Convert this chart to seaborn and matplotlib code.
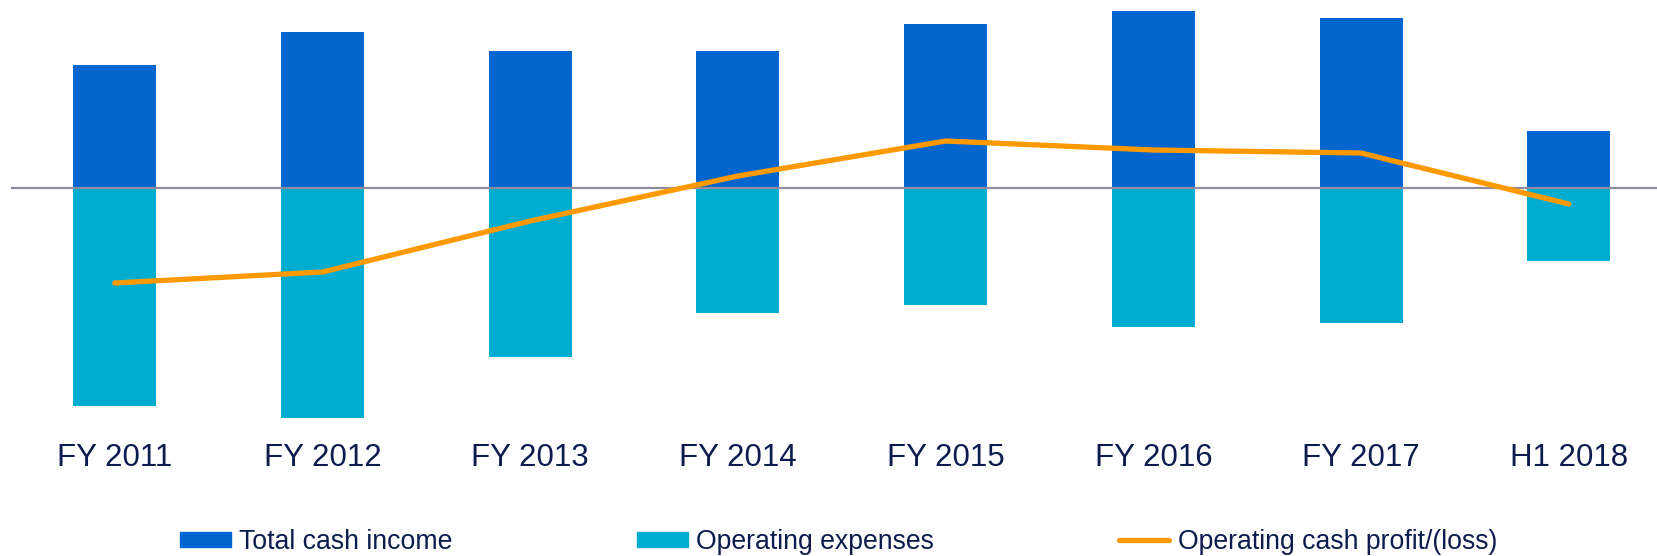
import numpy as np
import pandas as pd
import matplotlib
matplotlib.use("Agg")
import matplotlib.pyplot as plt
import seaborn as sns
from matplotlib.patches import Patch
from matplotlib.lines import Line2D

sns.set_style("white")
plt.rcParams['font.family'] = ['Liberation Sans', 'DejaVu Sans']

periods = ["FY 2011", "FY 2012", "FY 2013", "FY 2014", "FY 2015", "FY 2016", "FY 2017", "H1 2018"]
cash_income = [123, 156, 137, 137, 164, 177, 170, 57]
operating_expenses = [-218, -230, -169, -125, -117, -139, -135, -73]
cash_profit = [-95, -84, -33, 12, 47, 38, 35, -16]

income_color = "#0366CE"
expense_color = "#00ADD0"
profit_color = "#FF9900"
text_color = "#0C1C4E"

df = pd.DataFrame({"period": periods, "income": cash_income,
                   "expenses": operating_expenses, "profit": cash_profit})

fig = plt.figure(figsize=(16.58, 5.56), dpi=100)
ax = fig.add_axes([11 / 1658, 131 / 556, 8 * 207.7 / 1658, 425 / 556])

sns.barplot(data=df, x="period", y="income", color=income_color, width=0.4,
            saturation=1, linewidth=0, ax=ax)
sns.barplot(data=df, x="period", y="expenses", color=expense_color, width=0.4,
            saturation=1, linewidth=0, ax=ax)
ax.axhline(0, color="#8E8C9C", linewidth=1.6, zorder=3)
sns.lineplot(x=np.arange(len(periods)), y=df["profit"], color=profit_color,
             linewidth=3.8, solid_capstyle="round", solid_joinstyle="round",
             ax=ax, zorder=4)

ax.set_xlim(-0.5, len(periods) - 0.5)
ax.set_ylim(-237, 188)
ax.set_xticks(range(len(periods)))
ax.set_xticklabels(periods)
ax.set_xlabel("")
ax.set_ylabel("")
ax.set_yticks([])
ax.tick_params(axis="x", length=0, pad=13, labelsize=22.5, labelcolor=text_color)
sns.despine(ax=ax, left=True, bottom=True)

handles = [Patch(color=income_color), Patch(color=expense_color),
           Line2D([0], [0], color=profit_color, linewidth=3.8, solid_capstyle="round")]
labels = ["Total cash income", "Operating expenses", "Operating cash profit/(loss)"]
fig.legend(handles, labels, loc="lower center", bbox_to_anchor=(0.5057, 0.002),
           ncol=3, frameon=False, fontsize=19.2, handlelength=1.9, handleheight=0.52,
           handletextpad=0.31, columnspacing=6.93, borderpad=0, borderaxespad=0,
           labelcolor=text_color)

fig.savefig("out.png", dpi=100)
